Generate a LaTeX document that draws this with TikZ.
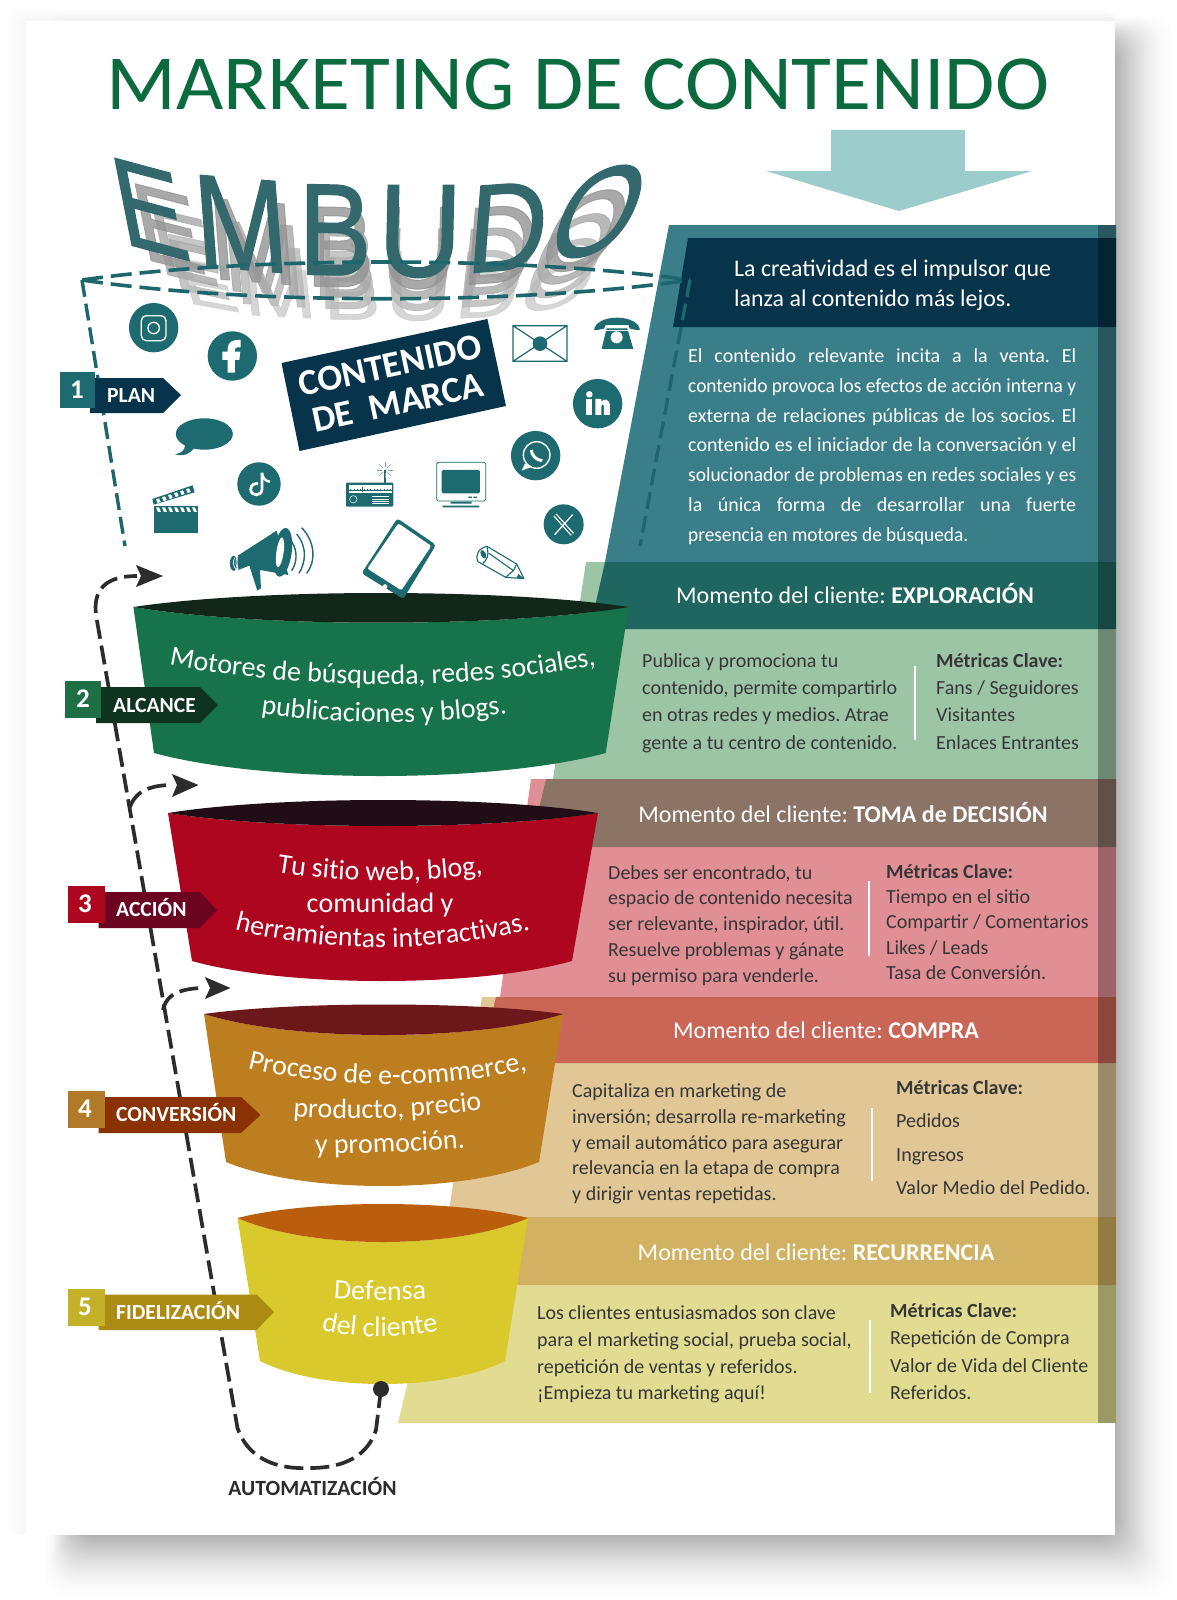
\documentclass[tikz,border=0pt]{standalone}
\usepackage{fontspec}
\usepackage{graphicx}
\setmainfont{Carlito}
\newfontfamily\embf[BoldFont={Liberation Sans},BoldFeatures={FakeBold=0.9}]{Liberation Sans}
\usetikzlibrary{decorations.text,calc}
\frenchspacing
\definecolor{titlegreen}{HTML}{0B6B3E}
\definecolor{arrowteal}{HTML}{9CCCCC}
\definecolor{tealblock}{HTML}{3A7E89}
\definecolor{navy}{HTML}{07344B}
\definecolor{icon}{HTML}{1D6A71}
\definecolor{embteal}{HTML}{33696D}
\definecolor{dashteal}{HTML}{1D666C}
\definecolor{hgreen}{HTML}{1F6660}\definecolor{bgreen}{HTML}{9CC5A6}
\definecolor{hbrown}{HTML}{8B7366}\definecolor{bpink}{HTML}{E08F95}
\definecolor{hred}{HTML}{C96656}\definecolor{btan}{HTML}{E0C795}
\definecolor{hgold}{HTML}{D1B262}\definecolor{byell}{HTML}{E2DC92}
\definecolor{fgreen}{HTML}{16734A}\definecolor{fgreenD}{HTML}{12271A}
\definecolor{fred}{HTML}{AF061F}\definecolor{fredD}{HTML}{200D15}
\definecolor{forange}{HTML}{BD7E20}\definecolor{forangeD}{HTML}{6C171A}
\definecolor{fyellow}{HTML}{D9C92C}\definecolor{fyellowD}{HTML}{BA5E0D}
\definecolor{inkdark}{HTML}{2C2C2C}
\definecolor{bodyink}{HTML}{363636}
\definecolor{ribgreen}{HTML}{0E3420}\definecolor{boxgreen}{HTML}{1E6F45}
\definecolor{ribred}{HTML}{6B0420}
\definecolor{riborange}{HTML}{8A3203}\definecolor{boxorange}{HTML}{B07A28}
\definecolor{ribyellow}{HTML}{AC8B12}\definecolor{boxyellow}{HTML}{C4B029}
\tikzset{
  para/.style 2 args={anchor=north west,inner sep=0pt,align=left,font=\fontsize{#1}{#2}\selectfont,yshift={0.7*#2*1pt}},
  hdrtext/.style={anchor=base,inner sep=0pt,text=white,font=\fontsize{24}{24}\selectfont},
  labtext/.style={anchor=base west,inner sep=0pt,text=white,font=\fontsize{21.6}{21.6}\selectfont\bfseries},
  numtext/.style={anchor=center,inner sep=0pt,text=white,font=\fontsize{27}{27}\selectfont\bfseries},
  divider/.style={draw=white,line width=2.6pt},
  lensdash/.style={draw=dashteal,line width=3.6pt,dash pattern=on 21pt off 8pt},
  sidedash/.style={draw=dashteal,line width=3.4pt,dash pattern=on 17pt off 7pt},
  loopdash/.style={draw=inkdark,line width=3.7pt,dash pattern=on 19pt off 7pt},
  headfill/.style={fill=inkdark},
}
% justified line: stretches spaces, or squeezes horizontally when too long
\newsavebox\jlbox
\newcommand\jl[1]{\sbox\jlbox{#1}\ifdim\wd\jlbox>388pt\relax\resizebox{388pt}{\height}{\usebox\jlbox}\else\hbox to 388pt{\spaceskip=0.23em plus 1fil\relax #1}\fi}
\newcommand\curved[6]{\path[decorate,decoration={text along path,text align=center,
   text={|\fontsize{#1}{#1}\selectfont\color{white}|#2}}] #3 .. controls #4 and #5 .. #6;}
\newcommand\funnel[9]{%
  \fill[fb] (#1,#3) .. controls ({#1+(#2-#1)/4},{#3+(#5-#3)*4/3}) and ({#2-(#2-#1)/4},{#3+(#5-#3)*4/3}) .. (#2,#3)
     -- (#7,#8) .. controls ({#7-(#7-#6)/4},{#8+(#9-#8)*4/3}) and ({#6+(#7-#6)/4},{#8+(#9-#8)*4/3}) .. (#6,#8) -- cycle;
  \fill[fd] (#1,#3) .. controls ({#1+(#2-#1)/4},{#3+(#4-#3)*4/3}) and ({#2-(#2-#1)/4},{#3+(#4-#3)*4/3}) .. (#2,#3)
     .. controls ({#2-(#2-#1)/4},{#3+(#5-#3)*4/3}) and ({#1+(#2-#1)/4},{#3+(#5-#3)*4/3}) .. (#1,#3) -- cycle;}
\newcommand\emblet[7]{\node[cm={#4,#5,#6,#7,(0,0)},inner sep=0pt,at={(#1,#2)}] {#3};}
\newcommand\embword{%
  \emblet{150}{209}{E}{1.06}{-0.285}{-0.25}{1.27}
  \emblet{241}{224}{M}{1.12}{-0.09}{-0.10}{1.33}
  \emblet{335}{230}{B}{1.10}{-0.02}{0}{1.31}
  \emblet{420}{231.5}{U}{1.16}{0}{0.03}{1.33}
  \emblet{508}{227}{D}{1.10}{0.08}{0.10}{1.26}
  \emblet{599}{211.5}{O}{1.10}{0.25}{0.46}{1.28}}
\newcommand\embecho[5]{\begin{scope}[shift={(#3,#4)},xscale=#1,yscale=#2,shift={(-377,-230)},transform shape,text=#5,opacity=0.8]\embword\end{scope}}
\begin{document}
\begin{tikzpicture}[x=1pt,y=-1pt]
\useasboundingbox (0,0) rectangle (1176,1600);
\fill[white] (0,0) rectangle (1176,1600);
% drop shadow
\foreach \i in {0,...,7}
  \fill[black,opacity=0.004,rounded corners=10pt] ({8+2*\i},{8+1.5*\i}) rectangle (1115,1535);
\foreach \i in {0,...,39}{
  \pgfmathsetmacro\sd{(\i/39)^0.6}
  \fill[black,opacity=0.009,rounded corners=22pt] ({45+30*\sd},{14+28*\sd}) rectangle ({1172-57*\sd},{1597-62*\sd});
}
% page
\fill[white] (26,21) rectangle (1115,1535);
\node[anchor=base,inner sep=0pt,text=titlegreen,xscale=1.047,font=\fontsize{78}{78}\selectfont] (title) at (578,110) {MARKETING DE CONTENIDO};
% arrow
\fill[arrowteal] (831,130) -- (965,130) -- (965,171) -- (1032,171) -- (899,211) -- (766,171) -- (831,171) -- cycle;
% EMBUDO
\begingroup
\embf\bfseries\fontsize{100}{100}\selectfont
\embecho{0.78}{0.52}{385}{296}{black!20}
\embecho{0.82}{0.64}{383}{280}{black!28}
\embecho{0.87}{0.76}{381}{263}{black!34}
\embecho{0.93}{0.88}{379}{247}{black!42}
\begin{scope}[text=embteal]\embword\end{scope}
\endgroup
% right-hand blocks
\fill[tealblock] (669,225) -- (1116,225) -- (1116,562) -- (605,562) -- cycle;
\fill[navy] (688,238) -- (1116,238) -- (1116,327) -- (673,327) -- cycle;
\fill[bgreen] (586,562) -- (1116,562) -- (1116,779) -- (553,779) -- cycle;
\fill[hgreen] (605,562) -- (1116,562) -- (1116,629) -- (590,629) -- cycle;
\fill[bpink] (531,779) -- (1116,779) -- (1116,997) -- (500,997) -- cycle;
\fill[hbrown] (546,779) -- (1116,779) -- (1116,847) -- (530,847) -- cycle;
\fill[btan] (482,997) -- (1116,997) -- (1116,1217) -- (448,1217) -- cycle;
\fill[hred] (496,997) -- (1116,997) -- (1116,1063) -- (480,1063) -- cycle;
\fill[byell] (448,1217) -- (1116,1217) -- (1116,1423) -- (398,1423) -- cycle;
\fill[hgold] (520,1217) -- (1116,1217) -- (1116,1285) -- (505,1285) -- cycle;
\fill[black,opacity=0.3] (1098,225) rectangle (1116,1423);
% texts on the right
\node[para={23.9}{30},text=white] (lead) at (734,276) {\strut La creatividad es el impulsor que\\\strut lanza al contenido más lejos.};
\node[para={20}{29.9},text=white] (intro) at (688,362) {\strut\jl{El contenido relevante incita a la venta. El}\\
\strut\jl{contenido provoca los efectos de acción interna y}\\
\strut\jl{externa de relaciones públicas de los socios. El}\\
\strut\jl{contenido es el iniciador de la conversación y el}\\
\strut\jl{solucionador de problemas en redes sociales y es}\\
\strut\jl{la única forma de desarrollar una fuerte}\\
\strut\resizebox{280pt}{\height}{presencia en motores de búsqueda.}};
\node[hdrtext] (h2) at (855,603) {Momento del cliente: \textbf{EXPLORACIÓN}};
\node[hdrtext] (h3) at (843,822) {Momento del cliente: \textbf{TOMA de DECISIÓN}};
\node[hdrtext] (h4) at (826,1038) {Momento del cliente: \textbf{COMPRA}};
\node[hdrtext] (h5) at (816,1260.5) {Momento del cliente: \textbf{RECURRENCIA}};
\node[para={20}{27.3},text=bodyink] (b2) at (642,667) {\strut Publica y promociona tu\\\strut contenido, permite compartirlo\\\strut en otras redes y medios. Atrae\\\strut gente a tu centro de contenido.};
\draw[divider] (915,666) -- (915,740);
\node[para={20}{27.3},text=bodyink] (m2) at (936,667) {\strut\textbf{Métricas Clave:}\\\strut Fans / Seguidores\\\strut Visitantes\\\strut Enlaces Entrantes};
\node[para={20}{25.7},text=bodyink] (b3) at (608,879) {\strut Debes ser encontrado, tu\\\strut espacio de contenido necesita\\\strut ser relevante, inspirador, útil.\\\strut Resuelve problemas y gánate\\\strut su permiso para venderle.};
\draw[divider] (869,881) -- (869,956);
\node[para={20}{25.3},text=bodyink] (m3) at (886,878) {\strut\textbf{Métricas Clave:}\\\strut Tiempo en el sitio\\\strut Compartir / Comentarios\\\strut Likes / Leads\\\strut Tasa de Conversión.};
\node[para={20}{25.9},text=bodyink] (b4) at (572,1097) {\strut Capitaliza en marketing de\\\strut inversión; desarrolla re-marketing\\\strut y email automático para asegurar\\\strut relevancia en la etapa de compra\\\strut y dirigir ventas repetidas.};
\draw[divider] (872,1108) -- (872,1181);
\node[para={20}{33.2},text=bodyink] (m4) at (896,1094.5) {\strut\textbf{Métricas Clave:}\\\strut Pedidos\\\strut Ingresos\\\strut Valor Medio del Pedido.};
\node[para={20}{26.9},text=bodyink] (b5) at (537,1319) {\strut Los clientes entusiasmados son clave\\\strut para el marketing social, prueba social,\\\strut repetición de ventas y referidos.\\\strut ¡Empieza tu marketing aquí!};
\draw[divider] (870,1320) -- (870,1393);
\node[para={20}{27.5},text=bodyink] (m5) at (890,1317) {\strut\textbf{Métricas Clave:}\\\strut Repetición de Compra\\\strut Valor de Vida del Cliente\\\strut Referidos.};
% dashed mouth of the funnel
\coordinate (mouthL) at (82,280);
\coordinate (mouthR) at (690,280);
\coordinate (mouthLb) at (125,546);
\coordinate (mouthRb) at (640,546);
\draw[lensdash] (mouthL) .. controls (250,256) and (520,256) .. (mouthR);
\draw[lensdash] (mouthL) .. controls (250,305) and (520,305) .. (mouthR);
\draw[sidedash] (mouthL) -- (mouthLb);
\draw[sidedash] (mouthR) -- (mouthRb);
% brand box
\fill[navy] (281.5,363) -- (487.4,319) -- (506,406) -- (299.5,451) -- cycle;
\node[rotate=12,inner sep=0pt,align=center,text=white,font=\fontsize{36.7}{38}\selectfont\bfseries] (marca) at (394,384) {CONTENIDO\\DE\ \ MARCA};
% funnel cups
\colorlet{fb}{fgreen}\colorlet{fd}{fgreenD}
\funnel{133.4}{628.6}{607}{593}{622.7}{154}{605.7}{753}{776}
\colorlet{fb}{fred}\colorlet{fd}{fredD}
\funnel{168}{598}{813}{800}{826}{192}{572}{961}{981}
\colorlet{fb}{forange}\colorlet{fd}{forangeD}
\funnel{204}{563}{1014}{1004.5}{1035}{226}{539}{1162}{1186}
\colorlet{fb}{fyellow}\colorlet{fd}{fyellowD}
\funnel{237.5}{528}{1218}{1204}{1242}{260}{505}{1361}{1384}
% funnel texts
\curved{28}{Motores de búsqueda, redes sociales,}{(165,664)}{(300,691)}{(470,691)}{(600,664)}
\curved{28}{publicaciones y blogs.}{(244,711)}{(334,726)}{(434,726)}{(524,711)}
\curved{28}{Tu sitio web, blog,}{(265,870)}{(340,884)}{(420,884)}{(495,872)}
\curved{28}{comunidad y}{(290,912)}{(340,912)}{(420,912)}{(470,912)}
\curved{28}{herramientas interactivas.}{(225,927)}{(320,954)}{(440,954)}{(540,927)}
\curved{28}{Proceso de e-commerce,}{(240,1066)}{(330,1090)}{(440,1090)}{(535,1068)}
\curved{28}{producto, precio}{(280,1115)}{(340,1122)}{(430,1118)}{(495,1108)}
\curved{28}{y promoción.}{(300,1154)}{(350,1154)}{(420,1152)}{(480,1147)}
\curved{28}{Defensa}{(310,1296)}{(350,1301)}{(400,1301)}{(450,1298)}
\curved{28}{del cliente}{(305,1326)}{(350,1340)}{(410,1340)}{(455,1326)}
% automation loop
\coordinate (dot) at (381,1389);
\coordinate (headA) at (137,576);
\coordinate (headB) at (172,785);
\coordinate (headC) at (205,988);
\coordinate (splitB) at (130,807);
\coordinate (splitC) at (163,1010);
\draw[loopdash] (dot) -- (376,1430) .. controls (368,1455) and (345,1468) .. (310,1468)
  .. controls (265,1470) and (245,1450) .. (237.5,1428) -- (96,615) .. controls (93,590) and (105,576) .. (headA);
\draw[loopdash] (splitB) .. controls (134,795) and (145,785) .. (headB);
\draw[loopdash] (splitC) .. controls (165,1000) and (172,988) .. (headC);
\fill[inkdark] (dot) circle (8);
\fill[headfill] (136,565) -- (163,576) -- (136,587) -- (141,576) -- cycle;
\fill[headfill] (172,774) -- (198.5,785) -- (172,797) -- (177,785) -- cycle;
\fill[headfill] (205,977) -- (230.5,988) -- (205,999) -- (210,988) -- cycle;
\node[anchor=base,inner sep=0pt,text=inkdark,font=\fontsize{21.7}{21.7}\selectfont\bfseries] (auto) at (312.5,1495) {AUTOMATIZACIÓN};
% stage labels
\fill[navy] (90,378) -- (163,378) -- (181,395) -- (163,413) -- (90,413) -- cycle;
\fill[icon] (59.6,372) rectangle (95,408);
\node[numtext] (n1) at (77,390) {1};
\node[labtext] (l1) at (107,402) {PLAN};
\fill[ribgreen] (96,687) -- (200,687) -- (218,705) -- (200,723) -- (96,723) -- cycle;
\fill[boxgreen] (64.5,681) rectangle (101,718);
\node[numtext] (n2) at (83,699) {2};
\node[labtext] (l2) at (113,712) {ALCANCE};
\fill[ribred] (98.6,892) -- (200,892) -- (217,910) -- (200,928) -- (98.6,928) -- cycle;
\fill[fred] (67.6,885.7) rectangle (104.7,922.7);
\node[numtext] (n3) at (85,904) {3};
\node[labtext] (l3) at (116,916) {ACCIÓN};
\fill[riborange] (98.6,1097) -- (241,1097) -- (260.5,1115) -- (241,1133) -- (98.6,1133) -- cycle;
\fill[boxorange] (67.6,1091) rectangle (104.7,1128);
\node[numtext] (n4) at (85,1109) {4};
\node[labtext] (l4) at (116,1121.7) {CONVERSIÓN};
\fill[ribyellow] (98.6,1294.5) -- (256.6,1294.5) -- (274,1312) -- (256.6,1330) -- (98.6,1330) -- cycle;
\fill[boxyellow] (67.6,1288.6) rectangle (104.7,1326);
\node[numtext] (n5) at (85,1307) {5};
\node[labtext] (l5) at (116,1319) {FIDELIZACIÓN};
% icons: left group, coordinates in thirds of a pixel
\begin{scope}[shift={(120,300)},x=0.3333pt,y=-0.3333pt]
  \fill[icon] (101,83) circle (24.7pt);
  \draw[white,line width=1.3pt,rounded corners=5pt] (64,47) rectangle (138,122);
  \draw[white,line width=1.3pt] (101,84) circle (5.7pt);
  \fill[icon] (337,168) circle (24.7pt);
  \fill[white] (323,218) -- (323,180) -- (307,180) -- (307,155) -- (323,155) -- (323,145) .. controls (323,125) and (340,118) .. (362,120) -- (362,142) -- (352,142) .. controls (346,142) and (345,146) .. (345,150) -- (345,155) -- (361,155) -- (358,180) -- (345,180) -- (345,218) -- cycle;
  % speech bubble
  \fill[icon] (253,402) ellipse (28.5pt and 15.7pt);
  \fill[icon] (195,435) .. controls (195,450) and (185,460) .. (165,463) .. controls (190,470) and (210,462) .. (222,445) -- cycle;
  % tiktok
  \fill[icon] (417,552) circle (21.7pt);
  \draw[white,line width=2.8pt] (426,518) -- (426,568) .. controls (426,590) and (392,590) .. (392,568) .. controls (392,552) and (410,548) .. (414,552);
  \draw[white,line width=2.4pt] (426,520) .. controls (430,538) and (438,544) .. (450,545);
  % clapper
  \fill[icon] (102,618) rectangle (233,700);
  \foreach \k in {0,...,6} \fill[white] ({108+\k*18},622) -- ({117+\k*18},622) -- ({123+\k*18},636) -- ({114+\k*18},636) -- cycle;
  \fill[icon] (97,597) -- (218,556) -- (224,577) -- (101,614) -- cycle;
  \foreach \k in {0,...,5} \fill[white] ({108+\k*18},{598-\k*6}) -- ({117+\k*18},{595-\k*6}) -- ({122+\k*18},{606-\k*6}) -- ({113+\k*18},{609-\k*6}) -- cycle;
  % megaphone
  \fill[icon] (352,768) -- (470,692) -- (505,825) -- (420,810) -- (423,865) -- (412,872) -- (388,797) -- (355,810) -- cycle;
  \fill[icon] (341,790) ellipse (3.8pt and 7.5pt);
  \draw[white,line width=0.7pt] (345,772) .. controls (338,785) and (338,795) .. (348,808);
  \draw[white,line width=0.7pt] (353,768) .. controls (346,785) and (346,795) .. (355,808);
  \fill[icon,rotate around={-8:(488,757)}] (488,757) ellipse (9pt and 24.5pt);
  \fill[white,rotate around={-8:(480,757)}] (480,757) ellipse (3.6pt and 15pt);
  \draw[icon,line width=1.4pt] (515,725) .. controls (535,755) and (530,790) .. (515,812);
  \draw[icon,line width=1.4pt] (530,702) .. controls (565,745) and (555,790) .. (537,820);
  \draw[icon,line width=1.4pt] (545,683) .. controls (590,730) and (585,790) .. (560,820);
\end{scope}
% icons: right group
\begin{scope}[shift={(340,300)},x=0.3333pt,y=-0.3333pt]
  % envelope
  \draw[icon,line width=1.2pt] (519,77) rectangle (681,184) (519,77) -- (681,184) (681,77) -- (519,184);
  \fill[icon] (600,131) circle (7.3pt);
  % telephone
  \fill[icon] (762,92) .. controls (765,40) and (897,40) .. (900,92) -- (870,86) -- (865,75) -- (797,75) -- (792,86) -- cycle;
  \fill[icon] (800,85) -- (862,85) -- (880,147) -- (785,147) -- cycle;
  \fill[white] (830,112) circle (6pt);
  \draw[white,line width=0.7pt] (762,92) -- (900,92);
  % linkedin
  \fill[icon] (773,311) circle (24.7pt);
  \fill[white] (748,283) circle (3.3pt);
  \fill[white] (739,296) rectangle (757,345);
  \fill[white] (766,345) -- (766,297) -- (784,297) -- (784,305) .. controls (790,296) and (810,293) .. (810,320) -- (810,345) -- (792,345) -- (792,322) .. controls (792,310) and (784,310) .. (784,322) -- (784,345) -- cycle;
  % whatsapp
  \fill[icon] (587,467) circle (24.7pt);
  \draw[white,line width=1.4pt] (590,465) circle (13.3pt);
  \fill[white] (555,490) -- (545,512) -- (572,502) -- cycle;
  \draw[white,line width=3pt] (574,450) .. controls (574,465) and (590,482) .. (607,482);
  % X
  \fill[icon] (671,673) circle (20pt);
  \draw[white,line width=4.2pt] (645,645) -- (697,703);
  \draw[icon,line width=1.6pt] (645,645) -- (697,703);
  \draw[white,line width=1.3pt] (698,644) -- (644,704);
  % radio
  \fill[icon,rounded corners=1pt] (18,548) rectangle (160,620);
  \fill[white] (28,555) rectangle (155,578);
  \draw[icon,line width=0.4pt] (28,572) -- (155,572);
  \foreach \k in {0,...,12} \draw[icon,line width=0.4pt] ({32+\k*10},566) -- ({32+\k*10},572);
  \draw[icon,line width=0.7pt] (66,560) -- (66,576);
  \draw[white,line width=0.5pt] (40,598) circle (3.7pt);
  \foreach \yy in {590,597,604,611} \draw[white,line width=0.6pt] (95,\yy) -- (147,\yy);
  \draw[icon,line width=1.2pt] (135,548) -- (135,510);
  \foreach \a in {0,45,...,315} \draw[icon!60,line width=0.5pt] ($(135,510)+(\a:3pt)$) -- ($(135,510)+(\a:8pt)$);
  % monitor
  \draw[icon,line width=0.8pt,rounded corners=1.5pt] (290,487) rectangle (437,603);
  \fill[icon,rounded corners=1.5pt] (305,510) rectangle (420,580);
  \fill[icon] (385,590) rectangle (396,594) (400,590) rectangle (411,594) (332,605) rectangle (395,611) (308,617) rectangle (418,622);
  % tablet
  \fill[icon,rounded corners=3pt] (172,655) -- (288,735) -- (190,897) -- (65,820) -- cycle;
  \fill[white,rounded corners=2pt] (175,670) -- (274,738) -- (184,871) -- (82,806) -- cycle;
  \fill[white] (135,860) circle (2.4pt);
  % pencil
  \draw[icon,line width=1.1pt,line join=round] (441,739) -- (530,792) -- (552,836) -- (497,832) -- (414,785) .. controls (405,765) and (415,745) .. (441,739);
  \draw[icon,line width=1.1pt] (447,760) -- (520,812) -- (530,792) (428,790) .. controls (440,780) and (448,770) .. (441,739) (520,812) -- (497,832);
  \fill[icon,rotate around={25:(430,763)}] (430,763) ellipse (2.5pt and 4.5pt);
  \fill[icon] (552,836) -- (535,822) -- (530,834) -- cycle;
\end{scope}
\end{tikzpicture}
\end{document}
